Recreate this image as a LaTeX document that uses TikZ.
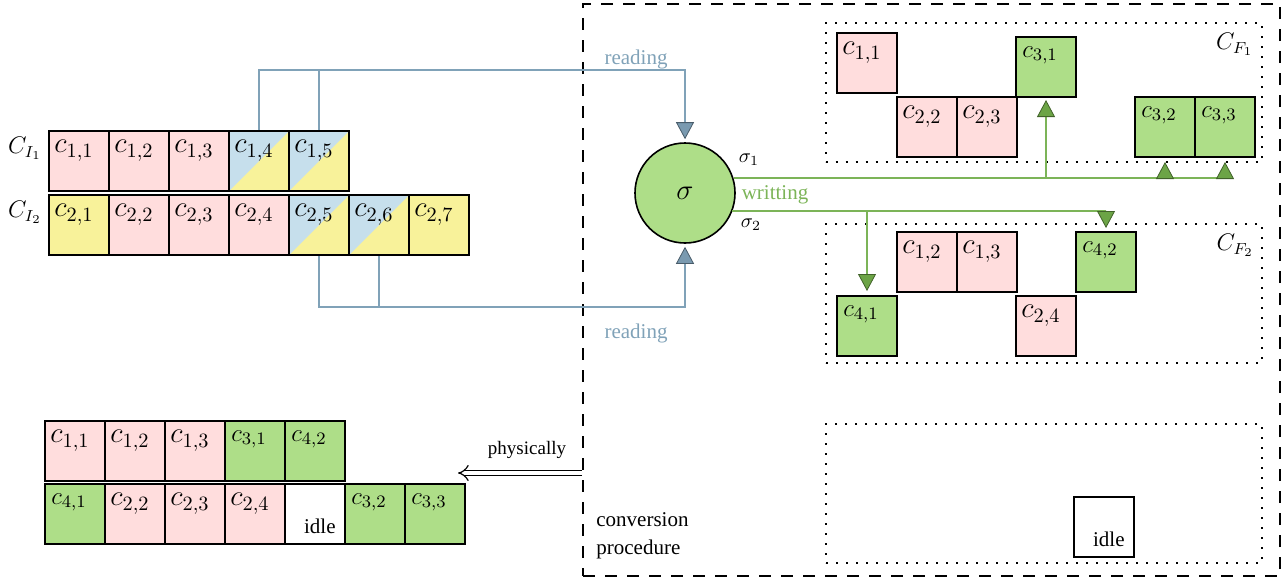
\RequirePackage{fix-cm}
\documentclass[tikz,border=0pt]{standalone}
\usepackage[no-math]{fontspec}
\setmainfont{Liberation Serif}
\usetikzlibrary{arrows.meta}
\definecolor{cpink}{RGB}{255,221,221}
\definecolor{cgreen}{RGB}{174,222,136}
\definecolor{cyellow}{RGB}{248,242,154}
\definecolor{cblue}{RGB}{198,223,236}
\definecolor{cread}{RGB}{128,162,184}
\definecolor{creadtip}{RGB}{122,154,176}
\definecolor{cwrite}{RGB}{124,180,88}
\definecolor{cwritetip}{RGB}{108,164,70}

\begin{document}
\begin{tikzpicture}[x = 0.5pt, y = -0.5pt,
        box/.style = {draw, line width = 1pt, minimum size = 30pt, inner sep = 0pt, anchor = north west},
        bigtxt/.style = {anchor = north west, inner sep = 0pt, xshift = 3pt, yshift = -5pt, font = \fontsize{14.5}{17}\selectfont},
        smalltxt/.style = {anchor = north west, inner sep = 0pt, xshift = 3.5pt, yshift = -5pt, font = \fontsize{12.5}{15}\selectfont},
        cell/.style 2 args = {box, fill = #1, label = {[bigtxt]north west:$#2$}},
        gcell/.style = {box, fill = cgreen, label = {[smalltxt]north west:$#1$}},
        split/.style = {path picture = {\fill[cblue] (path picture bounding box.south west) -- (path picture bounding box.north west) -- (path picture bounding box.north east) -- cycle;}},
        idlecell/.style = {box, fill = white, label = {[anchor = south east, inner sep = 0pt, xshift = -5pt, yshift = 5.5pt, font = \fontsize{10.5}{12}\selectfont]south east:idle}},
        region/.style = {draw, dash pattern = on 1pt off 4pt, line width = 1pt, minimum width = 218pt, minimum height = 69.5pt},
        setname/.style = {anchor = north east, inner sep = 0pt, font = \fontsize{12}{14}\selectfont},
        txt/.style = {inner sep = 0pt, font = \fontsize{10.5}{14}\selectfont},
        rtip/.tip = {Triangle[length = 8.5pt, width = 9pt, color = creadtip!60!black, fill = creadtip, line width = 0.4pt]},
        wtip/.tip = {Triangle[length = 8.5pt, width = 9pt, color = cwritetip!60!black, fill = cwritetip, line width = 0.4pt]},
        rd/.style = {draw = cread, line width = 0.75pt},
        wr/.style = {draw = cwrite, line width = 1pt}]
    \useasboundingbox (0,0) rectangle (1288,584);
    \node[draw, dash pattern = on 6pt off 5pt, line width = 0.8pt, minimum width = 348.5pt, minimum height = 286pt] (conv) at (931.5,290) {};
    \node[txt, anchor = west, align = left] (convtxt) at (596,536) {conversion\\procedure};

    \foreach \j in {1,2,3}
        \node[cell = {cpink}{c_{1,\j}}] (i1\j) at ({48+60*(\j-1)},130) {};
    \foreach \j in {4,5}
        \node[cell = {cyellow}{c_{1,\j}}, split] (i1\j) at ({48+60*(\j-1)},130) {};
    \node[cell = {cyellow}{c_{2,1}}] (i21) at (48,194) {};
    \foreach \j in {2,3,4}
        \node[cell = {cpink}{c_{2,\j}}] (i2\j) at ({48+60*(\j-1)},194) {};
    \foreach \j in {5,6}
        \node[cell = {cyellow}{c_{2,\j}}, split] (i2\j) at ({48+60*(\j-1)},194) {};
    \node[cell = {cyellow}{c_{2,7}}] (i27) at (408,194) {};
    \node[setname, xshift = -3pt, yshift = -3.5pt] (ci1) at (i11.north west) {$C_{I_1}$};
    \node[setname, xshift = -3pt, yshift = -3.5pt] (ci2) at (i21.north west) {$C_{I_2}$};

    \node[circle, draw, fill = cgreen, line width = 0.8pt, minimum size = 50pt, font = \Large] (sigma) at (685,193) {$\sigma$};
    \coordinate (rtop) at (0,70);
    \coordinate (rbot) at (0,307);
    \draw[rd, -{rtip}, shorten > = 1.5pt] (i14.north) |- (rtop -| sigma.north) -- (sigma.north);
    \draw[rd] (i15.north) -- (i15.north |- rtop);
    \draw[rd, -{rtip}, shorten > = 1.5pt] (i25.south) |- (rbot -| sigma.south) -- (sigma.south);
    \draw[rd] (i26.south) -- (i26.south |- rbot);
    \node[txt, text = cread] (read1) at (636,59) {reading};
    \node[txt, text = cread] (read2) at (636,333) {reading};

    \node[region] (F1) at (1043.5,92.5) {};
    \node[setname, xshift = -4.5pt, yshift = -5.5pt] (cf1) at (F1.north east) {$C_{F_1}$};
    \node[cell = {cpink}{c_{1,1}}] (f11) at (836,32) {};
    \node[cell = {cpink}{c_{2,2}}] (f22) at (896,96) {};
    \node[cell = {cpink}{c_{2,3}}] (f23) at (956,96) {};
    \node[gcell = {c_{3,1}}] (f31) at (1015,36) {};
    \node[gcell = {c_{3,2}}] (f32) at (1134,96) {};
    \node[gcell = {c_{3,3}}] (f33) at (1194,96) {};

    \node[region] (F2) at (1044,293.5) {};
    \node[setname, xshift = -4.5pt, yshift = -5.5pt] (cf2) at (F2.north east) {$C_{F_2}$};
    \node[cell = {cpink}{c_{1,2}}] (f12) at (896,231) {};
    \node[cell = {cpink}{c_{1,3}}] (f13) at (956,231) {};
    \node[gcell = {c_{4,2}}] (f42) at (1075,231) {};
    \node[gcell = {c_{4,1}}] (f41) at (836,295) {};
    \node[cell = {cpink}{c_{2,4}}] (f24) at (1015,295) {};

    \node[region] (F3) at (1044,493.5) {};
    \node[idlecell] (fidle) at (1073,496) {};

    \coordinate (w1) at (sigma.17);
    \coordinate (w2) at (sigma.-21);
    \draw[wr] (w1) -- (w1 -| f33.south);
    \draw[wr, -{wtip}, shorten > = 1pt] (f31.south |- w1) -- (f31.south);
    \draw[wr, -{wtip}, shorten > = 2pt] (f32.south |- w1) -- (f32.south);
    \draw[wr, -{wtip}, shorten > = 2pt] (f33.south |- w1) -- (f33.south);
    \draw[wr, -{wtip}, shorten > = 1.5pt] (w2) -| (f42.north);
    \draw[wr, -{wtip}, shorten > = 2pt] (f41.north |- w2) -- (f41.north);
    \node[txt, font = \fontsize{10}{12}\selectfont] (s1) at (749,160) {$\sigma_1$};
    \node[txt, font = \fontsize{10}{12}\selectfont] (s2) at (751,225) {$\sigma_2$};
    \node[txt, text = cwrite] (write) at (775,195) {writting};

    \foreach \j in {1,2,3}
        \node[cell = {cpink}{c_{1,\j}}] (p1\j) at ({44+60*(\j-1)},420) {};
    \node[gcell = {c_{3,1}}] (p14) at (224,420) {};
    \node[gcell = {c_{4,2}}] (p15) at (284,420) {};
    \node[gcell = {c_{4,1}}] (p21) at (44,483) {};
    \foreach \j in {2,3,4}
        \node[cell = {cpink}{c_{2,\j}}] (p2\j) at ({44+60*(\j-1)},483) {};
    \node[idlecell] (p25) at (284,483) {};
    \node[gcell = {c_{3,2}}] (p26) at (344,483) {};
    \node[gcell = {c_{3,3}}] (p27) at (404,483) {};

    \coordinate (ptip) at (458,473);
    \draw[double, double distance = 2.2pt, line width = 0.6pt, -{Implies[scale = 1.4]}] (conv.west |- ptip) -- (ptip);
    \node[txt, font = \fontsize{9.5}{12}\selectfont] (phys) at (527,450) {physically};
\end{tikzpicture}
\end{document}
